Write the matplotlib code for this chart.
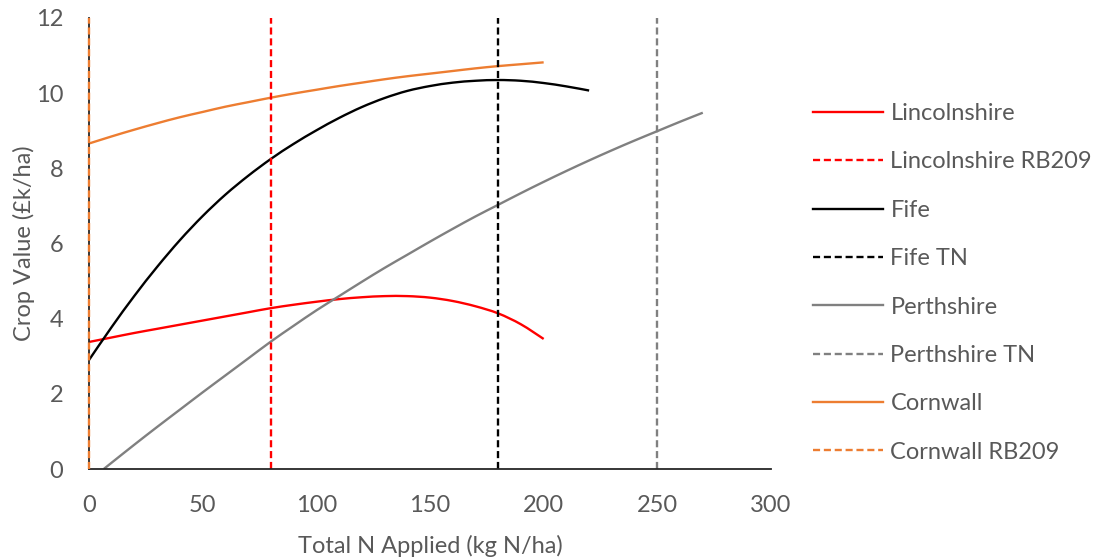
import numpy as np
import matplotlib
matplotlib.use('Agg')
import matplotlib.pyplot as plt
from matplotlib.path import Path
from matplotlib.patches import PathPatch
from matplotlib.lines import Line2D

plt.rcParams['font.family'] = ['Lato', 'DejaVu Sans']

# crop value response curves (kg N/ha -> £k/ha)
lincs_n = [0, 10, 20, 30, 40, 50, 60, 70, 80, 90, 100, 110, 120, 130, 140, 150, 160, 170, 180, 190, 200]
lincs_val = [3.38, 3.50, 3.62, 3.73, 3.84, 3.95, 4.06, 4.17, 4.28, 4.37, 4.45, 4.52, 4.57, 4.60, 4.60,
             4.56, 4.47, 4.33, 4.14, 3.85, 3.46]

fife_n = [0, 10, 20, 30, 40, 50, 60, 70, 80, 90, 100, 110, 120, 130, 140, 150, 160, 170, 180, 190, 200, 210, 220]
fife_val = [2.90, 3.78, 4.61, 5.38, 6.09, 6.73, 7.30, 7.80, 8.25, 8.65, 9.01, 9.34, 9.63, 9.87, 10.06,
            10.19, 10.28, 10.33, 10.35, 10.33, 10.27, 10.18, 10.07]

perth_n = [6.5, 10, 20, 30, 40, 50, 60, 70, 80, 90, 100, 110, 120, 130, 140, 150, 160, 170, 180, 190,
           200, 210, 220, 230, 240, 250, 260, 270]
perth_val = [0.0, 0.17, 0.65, 1.12, 1.58, 2.04, 2.49, 2.94, 3.39, 3.81, 4.22, 4.60, 4.98, 5.35, 5.70,
             6.05, 6.39, 6.72, 7.03, 7.34, 7.64, 7.93, 8.21, 8.48, 8.74, 8.99, 9.24, 9.48]

corn_n = [0, 10, 20, 30, 40, 50, 60, 70, 80, 90, 100, 110, 120, 130, 140, 150, 160, 170, 180, 190, 200]
corn_val = [8.66, 8.85, 9.03, 9.20, 9.36, 9.50, 9.64, 9.76, 9.88, 9.99, 10.09, 10.19, 10.28, 10.37, 10.45,
            10.52, 10.59, 10.66, 10.72, 10.77, 10.82]

# recommended N rates
lincs_rb209 = 80
fife_tn = 180
perth_tn = 250
corn_rb209 = 0

RED = '#FF0000'
BLACK = '#000000'
GREY = '#808080'
ORANGE = '#ED7D31'
TEXT = '#595959'
FS = 17


def smooth_path(xs, ys):
    # catmull-rom through the points, written as cubic beziers
    p = np.column_stack([xs, ys]).astype(float)
    ext = np.vstack([p[0], p, p[-1]])
    verts = [p[0]]
    codes = [Path.MOVETO]
    for i in range(1, len(ext) - 2):
        p0, p1, p2, p3 = ext[i - 1], ext[i], ext[i + 1], ext[i + 2]
        verts += [p1 + (p2 - p0) / 6, p2 - (p3 - p1) / 6, p2]
        codes += [Path.CURVE4] * 3
    return Path(verts, codes)


def curve(ax, xs, ys, color, lw):
    ax.add_patch(PathPatch(smooth_path(xs, ys), fill=False, edgecolor=color, lw=lw, capstyle='butt'))


fig = plt.figure(figsize=(10.96, 5.58), dpi=100)
ax = fig.add_axes([89/1096, 1 - 469/558, (771 - 89)/1096, (469 - 18)/558])

lw = 1.7
dash = (3, 1.6)
curve(ax, lincs_n, lincs_val, RED, lw)
ax.plot([lincs_rb209, lincs_rb209], [0, 12], color=RED, lw=lw, dashes=dash)
curve(ax, fife_n, fife_val, BLACK, lw)
ax.plot([fife_tn, fife_tn], [0, 12], color=BLACK, lw=lw, dashes=dash)
curve(ax, perth_n, perth_val, GREY, lw)
ax.plot([perth_tn, perth_tn], [0, 12], color=GREY, lw=lw, dashes=dash)
curve(ax, corn_n, corn_val, ORANGE, lw)
ax.plot([corn_rb209, corn_rb209], [0, 12], color=ORANGE, lw=lw, dashes=dash, zorder=5, clip_on=False)

ax.set_xlim(0, 300)
ax.set_ylim(0, 12)
ax.set_xticks(np.arange(0, 301, 50))
ax.set_yticks(np.arange(0, 13, 2))

for side in ['top', 'right']:
    ax.spines[side].set_visible(False)
ax.spines['bottom'].set_color('#262626')
ax.spines['bottom'].set_linewidth(1.3)
ax.spines['left'].set_color('#262626')
ax.spines['left'].set_linewidth(1.3)

ax.tick_params(length=0, labelsize=FS, labelcolor=TEXT)
ax.tick_params(axis='x', pad=19)
ax.tick_params(axis='y', pad=18.5)

ax.set_xlabel('Total N Applied (kg N/ha)', fontsize=FS, color=TEXT, labelpad=13)
ax.set_ylabel('Crop Value (£k/ha)', fontsize=FS, color=TEXT, labelpad=0.5)

handles = [
    Line2D([], [], color=RED, lw=lw),
    Line2D([], [], color=RED, lw=lw, dashes=dash),
    Line2D([], [], color=BLACK, lw=lw),
    Line2D([], [], color=BLACK, lw=lw, dashes=dash),
    Line2D([], [], color=GREY, lw=lw),
    Line2D([], [], color=GREY, lw=lw, dashes=dash),
    Line2D([], [], color=ORANGE, lw=lw),
    Line2D([], [], color=ORANGE, lw=lw, dashes=dash),
]
labels = ['Lincolnshire', 'Lincolnshire RB209', 'Fife', 'Fife TN',
          'Perthshire', 'Perthshire TN', 'Cornwall', 'Cornwall RB209']
leg = ax.legend(handles, labels, loc='upper left', bbox_to_anchor=(813/1096, 1 - 103/558),
                bbox_transform=fig.transFigure, frameon=False, fontsize=FS, handlelength=2.95,
                handletextpad=0.33, labelspacing=1.16, borderpad=0, borderaxespad=0)
for t in leg.get_texts():
    t.set_color(TEXT)

plt.savefig('out.png', dpi=100)
